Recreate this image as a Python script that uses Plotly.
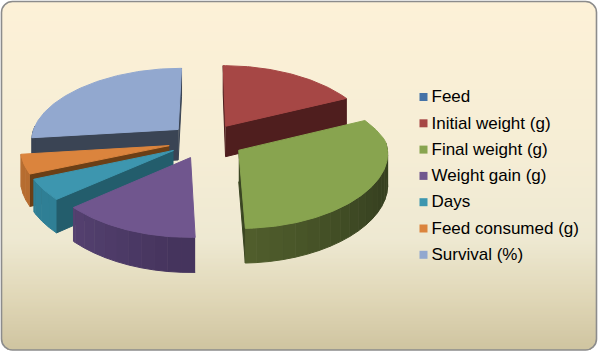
import numpy as np
import plotly.graph_objects as go

categories = ["Feed", "Initial weight (g)", "Final weight (g)", "Weight gain (g)", "Days", "Feed consumed (g)", "Survival (%)"]
values = [0, 66, 117.5, 53, 18, 16.5, 100]
top_colors = ["#4572A7", "#A64745", "#88A44F", "#70568E", "#3D96AF", "#DB843D", "#92A8CF"]
cut_colors = ["#2A4465", "#4F1E1E", "#3A4522", "#45345E", "#235D6C", "#6B3F16", "#3A4454"]
arc_near = ["#2A4465", "#4F1E1E", "#52602D", "#44335C", "#2F7F95", "#B66C30", "#3A4454"]
arc_far = ["#2A4465", "#4F1E1E", "#374120", "#5C4779", "#2F7F95", "#B66C30", "#3A4454"]
draw_order = [6, 1, 5, 4, 3, 2]

CX, CY, R, EXPLODE, PERSP_FRONT, PERSP_BACK, PERSP_Y, SQUASH, DEPTH = 206, 141, 148, 38, 0.04, 0.14, 0.094, 0.466, 31
W, H = 600, 355
LEG_X, LEG_Y0, LEG_PITCH = 423.5, 97, 26.3
TXT_X, TXT_DY = 431.5, 1.0


def project(mx, my, h=0.0):
    my = np.asarray(my, dtype=float)
    sx = 1 / (1 + (PERSP_BACK * np.maximum(my, 0) + PERSP_FRONT * np.minimum(my, 0)) / R)
    sy = 1 / (1 + PERSP_Y * my / R)
    return CX + np.asarray(mx) * sx, CY - SQUASH * my * sy + h * sy


def hex_mix(c0, c1, f):
    a = [int(c0[i:i + 2], 16) for i in (1, 3, 5)]
    b = [int(c1[i:i + 2], 16) for i in (1, 3, 5)]
    return "rgb({},{},{})".format(*[round(u + (v - u) * f) for u, v in zip(a, b)])


def poly(x, y, color):
    return go.Scatter(x=list(x), y=list(y), mode="lines", fill="toself", fillcolor=color,
                      line=dict(color=color, width=1), hoverinfo="skip", showlegend=False)


fig = go.Figure()
angles = np.cumsum([0] + values) / sum(values) * 360

for idx in draw_order:
    a0, a1 = angles[idx], angles[idx + 1]
    mid = np.radians((a0 + a1) / 2)
    ax, ay = EXPLODE * np.sin(mid), EXPLODE * np.cos(mid)
    t = np.radians(np.linspace(a0, a1, max(int(a1 - a0), 2) + 1))
    ex, ey = ax + R * np.sin(t), ay + R * np.cos(t)

    for end, visible in ((0, np.sin(t[0]) < 0.02), (-1, np.sin(t[-1]) > -0.02)):
        if visible:
            mx = np.array([ax, ex[end], ex[end], ax])
            my = np.array([ay, ey[end], ey[end], ay])
            h = np.array([0, 0, DEPTH, DEPTH])
            fig.add_trace(poly(*project(mx, my, h), cut_colors[idx]))

    step = 5
    for i in range(0, len(t) - 1, step):
        j = min(i + step, len(t) - 1)
        if np.cos(t[i:j + 1]).min() < 0.03:
            mx = np.r_[ex[i:j + 1], ex[i:j + 1][::-1]]
            my = np.r_[ey[i:j + 1], ey[i:j + 1][::-1]]
            h = np.r_[np.zeros(j - i + 1), np.full(j - i + 1, DEPTH)]
            f = min(abs(np.degrees(t[i]) - 180) / 70, 1)
            fig.add_trace(poly(*project(mx, my, h), hex_mix(arc_near[idx], arc_far[idx], f)))

    px, py = project(np.r_[ax, ex, ax], np.r_[ay, ey, ay])
    fig.add_trace(poly(px, py, top_colors[idx]))

# key: one square and one label per category
key_y = [LEG_Y0 + i * LEG_PITCH for i in range(len(categories))]
fig.add_trace(go.Scatter(
    x=[LEG_X] * len(categories), y=key_y, mode="markers",
    marker=dict(symbol="square", size=8, color=top_colors, line=dict(width=0)),
    hoverinfo="skip", showlegend=False, cliponaxis=False))
fig.add_trace(go.Scatter(
    x=[TXT_X] * len(categories), y=[v + TXT_DY for v in key_y], mode="text", text=categories,
    textposition="middle right", textfont=dict(family="Liberation Sans", size=17, color="#000000"),
    hoverinfo="skip", showlegend=False, cliponaxis=False))

# chart-area background: vertical gradient clipped to a rounded rectangle
L, T, RR, B, RAD = 1.5, 1.5, 596.5, 350, 11
stops_y = [0, 0.45, 0.68, 0.85, 1.0]
stops_c = [(253, 241, 215), (245, 237, 213), (238, 233, 210), (224, 215, 183), (207, 196, 160)]
shapes = []
for y0 in np.arange(T, B, 2):
    y1 = min(y0 + 2.5, B)
    yc = (y0 + min(y0 + 2, B)) / 2
    inset = 0.0
    if yc < T + RAD:
        inset = RAD - np.sqrt(max(RAD**2 - (T + RAD - yc)**2, 0))
    elif yc > B - RAD:
        inset = RAD - np.sqrt(max(RAD**2 - (yc - (B - RAD))**2, 0))
    f = (yc - T) / (B - T)
    c = [round(np.interp(f, stops_y, [s[k] for s in stops_c])) for k in range(3)]
    shapes.append(dict(type="rect", layer="below", x0=L + inset, x1=RR - inset, y0=y0, y1=y1,
                       fillcolor=f"rgb({c[0]},{c[1]},{c[2]})", line=dict(width=0)))
k = RAD * 0.45
border = (f"M{L+RAD},{T} L{RR-RAD},{T} C{RR-k},{T} {RR},{T+k} {RR},{T+RAD} L{RR},{B-RAD} "
          f"C{RR},{B-k} {RR-k},{B} {RR-RAD},{B} L{L+RAD},{B} C{L+k},{B} {L},{B-k} {L},{B-RAD} "
          f"L{L},{T+RAD} C{L},{T+k} {L+k},{T} {L+RAD},{T} Z")
shapes.append(dict(type="path", path=border, layer="below", line=dict(color="#8C8C8C", width=1.6)))

fig.update_layout(
    width=W, height=H, margin=dict(l=0, r=0, t=0, b=0), showlegend=False,
    paper_bgcolor="white", plot_bgcolor="rgba(0,0,0,0)", shapes=shapes,
    xaxis=dict(range=[0, W], visible=False, fixedrange=True),
    yaxis=dict(range=[H, 0], visible=False, fixedrange=True),
    font=dict(family="Liberation Sans", size=14, color="#000000"),
)
fig.write_html("out.html", config=dict(displayModeBar=False),
               post_script="document.body.style.margin='0';document.documentElement.style.overflow='hidden';")
